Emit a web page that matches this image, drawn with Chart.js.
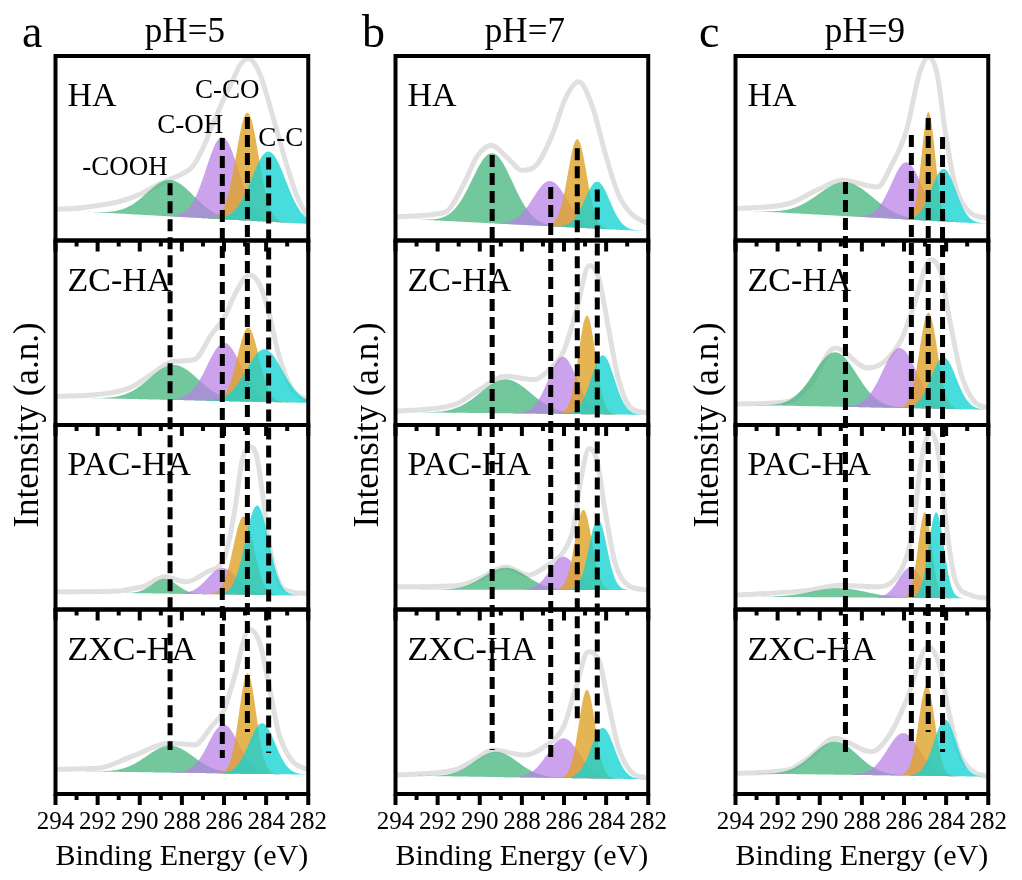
<!DOCTYPE html>
<html>
<head>
<meta charset="utf-8">
<script src="https://cdn.jsdelivr.net/npm/chart.js@4.4.0/dist/chart.umd.min.js"></script>
<style>
  html, body { margin: 0; padding: 0; background: #fff; width: 1022px; height: 880px; overflow: hidden; }
  .col { position: absolute; top: 0; width: 340px; height: 880px; }
</style>
</head>
<body>
<div class="col" style="left:0px"><canvas id="cA" width="340" height="880"></canvas></div>
<div class="col" style="left:340px"><canvas id="cB" width="340" height="880"></canvas></div>
<div class="col" style="left:680px"><canvas id="cC" width="340" height="880"></canvas></div>
<script>
// ---------------- categories / tick labels ----------------
const BE_TICKS = [294, 292, 290, 288, 286, 284, 282];
const PH_LABELS = ['pH=5', 'pH=7', 'pH=9'];
const PANEL_LETTERS = ['a', 'b', 'c'];
const SAMPLES = ['HA', 'ZC-HA', 'PAC-HA', 'ZXC-HA'];
const SPECIES = ['-COOH', 'C-OH', 'C-CO', 'C-C'];

// ---------------- pH = 5 ----------------
// fitted component peaks: centre eV, height above background, FWHM eV
// rows: HA, ZC-HA, PAC-HA, ZXC-HA ; columns: -COOH, C-OH, C-CO, C-C
const PH5_CENTER = [[288.56, 286.08, 284.89, 283.88], [288.38, 285.99, 284.85, 284.08], [288.82, 286.07, 285.07, 284.43], [288.56, 286.02, 284.88, 284.19]];
const PH5_HEIGHT = [[19.7, 44.5, 58.5, 38], [19, 31.5, 40, 28.5], [8, 14.4, 42.5, 48.5], [14.6, 26.5, 54.5, 27.5]];
const PH5_FWHM   = [[2.6, 1.8, 1.25, 1.9], [2.7, 1.9, 1.2, 2.0], [1.4, 1.65, 1.15, 1.3], [2.6, 1.7, 0.95, 1.45]];
const PH5_BG     = [[16.5, 9], [15, 12], [9.5, 7.5], [12.5, 10.5]];
const PH5_ENV_HA  = [[294,17],[293,17.5],[292,19],[291,21],[290,25],[289.5,28],[289,31],[288.5,33.5],[288,36],[287.5,40],[287,50],[286.5,64],[286,77],[285.5,89],[285.25,95],[285,98],[284.8,98.5],[284.5,95],[284.25,89],[284,80],[283.75,70],[283.5,60],[283,40],[282.5,23],[282,12]];
const PH5_ENV_ZC  = [[294,15.5],[292,16.5],[290.5,20],[289.5,27],[288.4,34.5],[287.4,35.5],[286.6,49],[286,58],[285.4,72.6],[284.8,81.5],[284.3,76],[283.85,60],[283.4,38],[282.8,20],[282,13]];
const PH5_ENV_PAC = [[294,9.6],[291,10],[290.5,11],[289.8,12.5],[288.8,17.7],[287.8,15],[286.8,20.4],[286,27.6],[285.5,53],[285.15,80],[284.8,88.2],[284.46,83.6],[284.16,62],[283.85,35],[283.4,15],[282.8,9.6],[282,8.7]];
const PH5_ENV_ZXC = [[294,13.4],[292,13.9],[290.4,20.2],[288.6,27.5],[287.4,26.6],[286.6,36.5],[286,45.5],[285.5,63.6],[284.8,89.3],[284.3,81.7],[283.85,58.2],[283.4,32.9],[282.8,18.4],[282,13]];
const PH5_REF_E      = [288.56, 286.08, 284.89, 283.88];
const PH5_REF_TOP    = [3.31, 3.556, 3.67, 3.45];
const PH5_REF_BOTTOM = [0.238, 0.195, 0.336, 0.222];

// ---------------- pH = 7 ----------------
const PH7_CENTER = [[289.41, 286.66, 285.37, 284.42], [288.77, 286.06, 284.91, 284.16], [288.77, 286.02, 285.08, 284.39], [289.22, 286.02, 284.91, 284.16]];
const PH7_HEIGHT = [[38, 24.5, 48, 25.5], [18.4, 31, 53.5, 32], [12, 18, 43.5, 38.5], [13.7, 21.5, 48, 27.5]];
const PH7_FWHM   = [[2.25, 1.9, 1.05, 1.4], [2.8, 1.6, 0.95, 1.3], [2.4, 1.5, 0.95, 1.0], [2.4, 1.8, 0.92, 1.3]];
const PH7_BG     = [[12, 5], [7, 5.5], [10.8, 10.5], [10, 8]];
const PH7_ENV_HA  = [[294,12.7],[292,14.5],[291.5,16.4],[290.75,30.8],[290.14,45.3],[289.45,51.6],[288.7,45],[288,38],[287.4,39.8],[286.6,56],[285.9,77.8],[285.3,86],[284.65,72.6],[284.04,47],[283.43,25.4],[282.8,14.5],[282,9]];
const PH7_ENV_ZC  = [[294,7.4],[291.2,11],[290.14,18.2],[288.77,26.4],[287.39,24.6],[286.78,29.1],[286.02,40],[285.42,61.6],[284.8,86.5],[284.35,79.6],[283.89,52.6],[283.43,25.5],[282.82,9.2],[282,6.5]];
const PH7_ENV_PAC = [[294,12.3],[291,13],[290,16.8],[288.77,23.1],[287.7,18.6],[286.78,24],[286.02,31.3],[285.56,43.9],[285.19,71],[284.8,87.3],[284.42,80],[284.04,53],[283.59,25.9],[282.97,13.2],[282,10.5]];
const PH7_ENV_ZXC = [[294,10.3],[291.2,13],[290.3,18],[289.38,23.8],[287.85,21.1],[286.94,25.6],[286.02,36.5],[285.42,58.2],[284.85,77.1],[284.35,72.6],[283.89,49.2],[283.43,25.6],[282.82,12.1],[282,8.5]];
const PH7_REF_E      = [289.41, 286.63, 285.37, 284.42];
const PH7_REF_TOP    = [3.463, 3.29, 3.50, 3.276];
const PH7_REF_BOTTOM = [0.238, 0.184, 0.39, 0.168];

// ---------------- pH = 9 ----------------
const PH9_CENTER = [[288.78, 285.88, 284.84, 284.12], [289.27, 286.21, 284.84, 284.12], [289.09, 285.70, 285.01, 284.47], [289.27, 286.03, 284.92, 284.05]];
const PH9_HEIGHT = [[18.4, 31, 59, 28.5], [29.5, 32.5, 52, 28], [5, 16.5, 46.5, 46.5], [18, 23, 49, 30.5]];
const PH9_FWHM   = [[3.0, 1.7, 0.75, 1.35], [2.4, 1.9, 1.0, 1.4], [3.0, 1.3, 0.75, 0.85], [2.5, 1.8, 0.9, 1.25]];
const PH9_BG     = [[16.5, 9], [11, 8.3], [7, 6], [11.2, 9.4]];
const PH9_ENV_HA  = [[294,17.2],[291.5,19.9],[290.15,27.2],[288.93,32.6],[287.25,29],[286.64,39.8],[285.88,59.7],[285.27,90.4],[284.84,99.5],[284.43,90.4],[284.05,59.7],[283.59,30.8],[282.98,16.4],[282,11.8]];
const PH9_ENV_ZC  = [[294,11.4],[291.5,12.8],[290.46,21.8],[289.27,41.7],[287.71,30.9],[286.21,44.4],[285.57,63.4],[284.73,89.6],[284.28,83.3],[283.82,56.2],[283.28,27.3],[282.67,12.8],[282,9.2]];
const PH9_ENV_PAC = [[294,7.8],[290.46,10.5],[289.09,13.2],[287.4,12.3],[286.18,20.4],[285.57,43.9],[285.19,80],[284.73,96.2],[284.35,83.6],[283.97,43.9],[283.59,16.8],[282.82,7.8],[282,6]];
const PH9_ENV_ZXC = [[294,11.2],[291.5,13],[290.46,20.2],[289.27,30.2],[287.56,22.9],[286.64,32.9],[285.88,50.9],[284.85,79.8],[284.35,70.8],[283.89,45.5],[283.43,23.8],[282.82,13],[282,9.4]];
const PH9_REF_E      = [288.78, 285.65, 284.85, 284.17];
const PH9_REF_TOP    = [3.317, 3.572, 3.664, 3.561];
const PH9_REF_BOTTOM = [0.211, 0.255, 0.336, 0.228];

// ---------------- assembly (no values below) ----------------
const COLUMNS = [
  { center: PH5_CENTER, height: PH5_HEIGHT, fwhm: PH5_FWHM, bg: PH5_BG, env: [PH5_ENV_HA, PH5_ENV_ZC, PH5_ENV_PAC, PH5_ENV_ZXC], refE: PH5_REF_E, refTop: PH5_REF_TOP, refBottom: PH5_REF_BOTTOM },
  { center: PH7_CENTER, height: PH7_HEIGHT, fwhm: PH7_FWHM, bg: PH7_BG, env: [PH7_ENV_HA, PH7_ENV_ZC, PH7_ENV_PAC, PH7_ENV_ZXC], refE: PH7_REF_E, refTop: PH7_REF_TOP, refBottom: PH7_REF_BOTTOM },
  { center: PH9_CENTER, height: PH9_HEIGHT, fwhm: PH9_FWHM, bg: PH9_BG, env: [PH9_ENV_HA, PH9_ENV_ZC, PH9_ENV_PAC, PH9_ENV_ZXC], refE: PH9_REF_E, refTop: PH9_REF_TOP, refBottom: PH9_REF_BOTTOM }
];

const SERIF = "'Liberation Serif', 'Times New Roman', serif";
const ROW_IDS = ['y0', 'y1', 'y2', 'y3'];
const FILLS = ['rgba(60,178,118,0.72)', 'rgba(186,126,230,0.72)', 'rgba(222,162,40,0.80)', 'rgba(20,212,212,0.78)'];
const SPECIES_LABEL_AT = [[290.7, 35.5], [287.6, 58.3], [285.85, 77.3], [283.3, 51.3]]; // layout of annotation text (eV, panel units)
const E_MIN = 282, E_MAX = 294;

// sampling grid for drawing the Gaussian components
const GRID = [];
for (let i = 0; i <= 240; i++) GRID.push(+(E_MAX - i * 0.05).toFixed(2));

function bgAt(bg, e) { return bg[1] + (bg[0] - bg[1]) * (e - E_MIN) / (E_MAX - E_MIN); }
function peak(h, c, w, e) { return h * Math.exp(-4 * Math.LN2 * (e - c) * (e - c) / (w * w)); }

function buildDatasets(col) {
  const C = COLUMNS[col];
  const ds = [];
  ROW_IDS.forEach((yid, r) => {
    const bgIndex = ds.length;
    ds.push({ yAxisID: yid, data: GRID.map(e => ({ x: e, y: bgAt(C.bg[r], e) })), borderWidth: 0, pointRadius: 0, fill: false, order: 100 });
    ds.push({ yAxisID: yid, data: C.env[r].map(p => ({ x: p[0], y: p[1] })), borderColor: 'rgba(222,222,222,0.95)', borderWidth: 5,
      pointRadius: 0, fill: false, cubicInterpolationMode: 'monotone', order: 50 });
    for (let k = 0; k < 4; k++) {
      ds.push({ yAxisID: yid, data: GRID.map(e => ({ x: e, y: bgAt(C.bg[r], e) + peak(C.height[r][k], C.center[r][k], C.fwhm[r][k], e) })),
        borderWidth: 0, pointRadius: 0, backgroundColor: FILLS[k], fill: { target: bgIndex }, order: 40 - k * 10 });
    }
  });
  C.refE.forEach((e, i) => {
    ds.push({ yAxisID: 'yAll', data: [{ x: e, y: C.refTop[i] }, { x: e, y: C.refBottom[i] }], borderColor: '#000', borderWidth: 5,
      borderDash: [12, 6], pointRadius: 0, fill: false, order: 0 });
  });
  return ds;
}

function decor(col) {
  return {
    id: 'decor',
    afterDatasetsDraw(chart) {
      const { ctx, chartArea: a, scales } = chart;
      const xs = scales.x;
      ctx.save();
      ctx.strokeStyle = '#000';
      ctx.lineCap = 'butt';
      ROW_IDS.forEach(id => {
        const s = scales[id];
        for (let e = E_MIN; e <= E_MAX; e++) {
          const px = xs.getPixelForValue(e);
          ctx.lineWidth = 4;
          ctx.beginPath();
          ctx.moveTo(px, s.bottom);
          ctx.lineTo(px, s.bottom + (e % 2 ? 6 : 11));
          ctx.stroke();
        }
      });
      ctx.lineWidth = 4;
      ROW_IDS.forEach(id => { const s = scales[id]; ctx.strokeRect(a.left, s.top, a.right - a.left, s.bottom - s.top); });
      ctx.fillStyle = '#000';
      ctx.textBaseline = 'alphabetic';
      ctx.textAlign = 'left';
      ctx.font = '34px ' + SERIF;
      ROW_IDS.forEach((id, r) => ctx.fillText(SAMPLES[r], a.left + 12, scales[id].top + 50));
      ctx.textAlign = 'center';
      ctx.font = '35px ' + SERIF;
      ctx.fillText(PH_LABELS[col], (a.left + a.right) / 2 + 3, 42);
      ctx.textAlign = 'left';
      ctx.font = '46px ' + SERIF;
      ctx.fillText(PANEL_LETTERS[col], col === 2 ? 19 : 22, 47);
      if (col === 0) {
        ctx.textAlign = 'center';
        ctx.font = '27px ' + SERIF;
        SPECIES.forEach((t, i) => {
          const p = SPECIES_LABEL_AT[i];
          ctx.fillText(t, xs.getPixelForValue(p[0]), scales.y0.getPixelForValue(p[1]));
        });
      }
      ctx.restore();
    }
  };
}

function makeChart(id, col) {
  const scales = {
    x: {
      type: 'linear', position: 'bottom', min: E_MIN, max: E_MAX, reverse: true,
      afterBuildTicks: s => { s.ticks = BE_TICKS.map(v => ({ value: v })); },
      ticks: { font: { family: SERIF, size: 25 }, color: '#000', padding: 13, autoSkip: false, maxRotation: 0 },
      grid: { display: false, drawTicks: false }, border: { display: false },
      title: { display: true, text: 'Binding Energy (eV)', color: '#000', font: { family: SERIF, size: 30, lineHeight: 1.2 }, padding: { top: 0, bottom: 5 } },
      afterFit: s => { s.height = 86; }
    },
    yAll: {
      type: 'linear', position: 'left', min: 0, max: 4,
      ticks: { display: false }, grid: { display: false, drawTicks: false }, border: { display: false },
      title: { display: true, text: 'Intensity (a.n.)', color: '#000', font: { family: SERIF, size: 35, lineHeight: 1.2 }, padding: { top: 8, bottom: 0 } },
      afterFit: s => { s.width = 55.5; }
    }
  };
  ROW_IDS.forEach((yid, r) => {
    scales[yid] = { type: 'linear', position: 'left', stack: 'rows', stackWeight: 1, weight: ROW_IDS.length - r, min: 0, max: 100, display: false };
  });
  return new Chart(document.getElementById(id), {
    type: 'line',
    data: { datasets: buildDatasets(col) },
    options: {
      responsive: false, animation: false, devicePixelRatio: 1, events: [],
      layout: { padding: { top: 56, right: 22.5, left: 0, bottom: 0 } },
      plugins: { legend: { display: false }, tooltip: { enabled: false }, title: { display: false } },
      scales
    },
    plugins: [decor(col)]
  });
}

makeChart('cA', 0);
makeChart('cB', 1);
makeChart('cC', 2);
</script>
</body>
</html>
